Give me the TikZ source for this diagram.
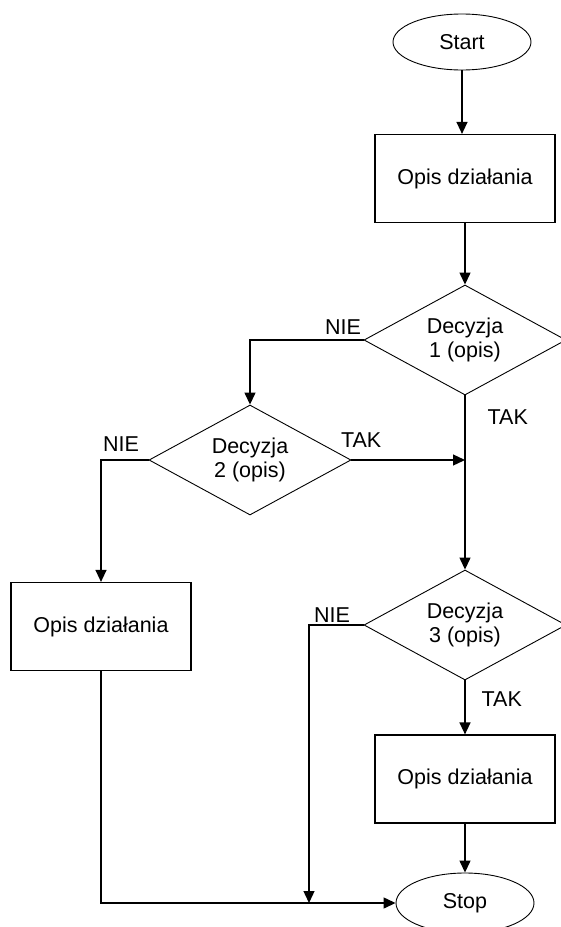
\documentclass[tikz,border=0pt]{standalone}
\usepackage{fontspec}
\setmainfont{Liberation Sans}
\usetikzlibrary{shapes.geometric,arrows.meta}

\begin{document}
\begin{tikzpicture}[x=1pt,y=-1pt,
term/.style={draw,ellipse,line width=0.9pt,minimum width=138pt,minimum height=56pt,inner sep=0pt},
proc/.style={draw,rectangle,line width=1.2pt,minimum width=180pt,minimum height=88pt,inner sep=0pt},
dec/.style={draw,diamond,line width=0.9pt,aspect=1.84,minimum width=202pt,minimum height=110pt,inner sep=0pt,align=center},
flow/.style={line width=1.3pt,-{Triangle[length=12pt,width=11pt]}},
lbl/.style={inner sep=0pt},
every node/.style={font=\fontsize{21.5}{24.5}\selectfont}]

\useasboundingbox (0,0) rectangle (561,927);

% blocks
\node (start) [term] at (462,42) {Start};
\node (box1) [proc] at (465,178.5) {Opis działania};
\node (d1) [dec] at (465,340) {Decyzja\\1 (opis)};
\node (d2) [dec] at (250,460) {Decyzja\\2 (opis)};
\node (box2) [proc] at (101,626.5) {Opis działania};
\node (d3) [dec] at (465,625) {Decyzja\\3 (opis)};
\node (box3) [proc] at (465,779) {Opis działania};
\node (stop) [term,minimum height=60pt] at (465,903) {Stop};
\coordinate (j3) at (309,903);

% connectors
\draw[flow] (start.south) -- (start.south |- box1.north);
\draw[flow] (box1.south) -- (d1.north);
\draw[flow] (d1.west) node[lbl,anchor=south east,xshift=-2pt,yshift=5pt] (nie1) {NIE} -| (d2.north);
\draw[flow] (d1.south) node[lbl,anchor=north west,xshift=22pt,yshift=-14pt] (tak1) {TAK} -- (d3.north);
\draw[flow] (d2.east) node[lbl,anchor=south west,xshift=-11pt,yshift=12pt] (tak2) {TAK} -- (d1.south |- d2.east);
\draw[flow] (d2.west) node[lbl,anchor=south west,xshift=-46pt,yshift=8pt] (nie2) {NIE} -| (box2.north);
\draw[flow] (d3.west) node[lbl,anchor=south east,xshift=-13pt,yshift=2pt] (nie3) {NIE} -| (j3);
\draw[flow] (d3.south) node[lbl,anchor=north west,xshift=16pt,yshift=-11pt] (tak3) {TAK} -- (box3.north);
\draw[flow] (box3.south) -- (stop.north);
\draw[flow] (box2.south) |- (stop.west);

\end{tikzpicture}
\end{document}
